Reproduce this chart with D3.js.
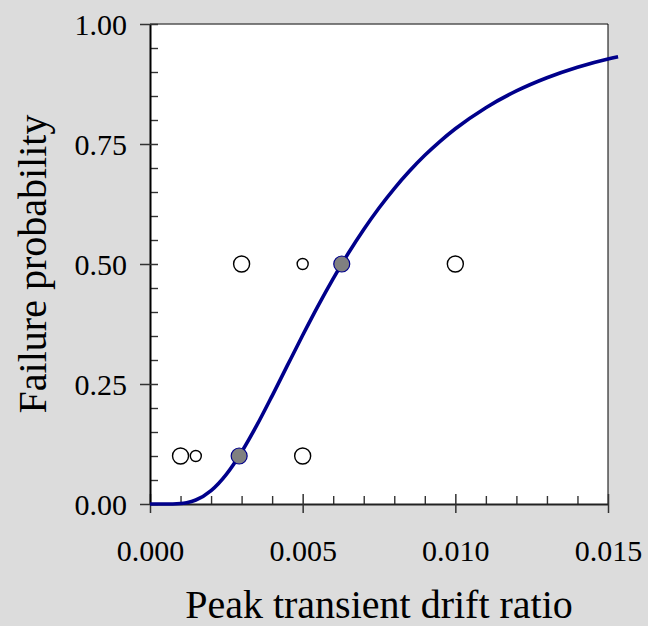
<!DOCTYPE html>
<html>
<head>
<meta charset="utf-8">
<script src="https://cdn.jsdelivr.net/npm/d3@7"></script>
<style>
  html, body { margin: 0; padding: 0; background: #dcdcdc; }
  svg { display: block; }
  text { font-family: "Liberation Serif", "Times New Roman", serif; fill: #000; }
</style>
</head>
<body>
<script>
// ---- data ----
const xTickValues = [0, 0.005, 0.010, 0.015];
const yTickValues = [0, 0.25, 0.50, 0.75, 1.00];

// observed (open) points; weight: 2 = large marker, 1 = small marker
const openX = [0.0010, 0.0015, 0.0030, 0.0050, 0.0050, 0.0100];
const openP = [0.10, 0.10, 0.50, 0.50, 0.10, 0.50];
const openWeight = [2, 1, 2, 1, 2, 2];

// fitted (filled) points
const fitX = [0.00292, 0.00628];
const fitP = [0.10, 0.50];

// fragility curve
const curveX = [0, 0.0005, 0.0010, 0.0012, 0.0015, 0.0020, 0.0025, 0.0030, 0.0035, 0.0040, 0.0045,
                0.0050, 0.0055, 0.0060, 0.0065, 0.0070, 0.0075, 0.0080, 0.0085, 0.0090, 0.0095,
                0.0100, 0.0110, 0.0120, 0.0130, 0.0140, 0.0150, 0.01533];
const curveP = [0, 0.0000, 0.0011, 0.0028, 0.0083, 0.0279, 0.0618, 0.1084, 0.1641, 0.2254, 0.2887,
                0.3515, 0.4123, 0.4696, 0.5229, 0.5720, 0.6167, 0.6572, 0.6936, 0.7264, 0.7556,
                0.7817, 0.8257, 0.8606, 0.8881, 0.9100, 0.9273, 0.9318];

const xLabel = "Peak transient drift ratio";
const yLabel = "Failure probability";

// ---- layout ----
const W = 648, H = 626;
const L = 150, R = 608, T = 24, B = 504;

const svg = d3.select("body").append("svg").attr("width", W).attr("height", H);
svg.append("rect").attr("width", W).attr("height", H).attr("fill", "#dcdcdc");

const x = d3.scaleLinear().domain([0, 0.015]).range([L, R]);
const y = d3.scaleLinear().domain([0, 1]).range([B, T]);

// plot area
svg.append("rect").attr("x", L).attr("y", T).attr("width", R - L).attr("height", B - T).attr("fill", "#fff");

// frame top / right
svg.append("line").attr("x1", L).attr("x2", R).attr("y1", T).attr("y2", T)
  .attr("stroke", "#555").attr("stroke-width", 1.4);
svg.append("line").attr("x1", R).attr("x2", R).attr("y1", T).attr("y2", B)
  .attr("stroke", "#000").attr("stroke-width", 1);

const tickColor = "#333";

// ---- x minor ticks ----
const xMinor = d3.range(1, 15).map(i => i * 0.001).filter(v => Math.abs(v % 0.005) > 1e-9 && Math.abs(v % 0.005 - 0.005) > 1e-9);
const gxm = svg.append("g").attr("transform", `translate(0,${B})`)
  .call(d3.axisBottom(x).tickValues(xMinor).tickSize(-8).tickFormat(""));
gxm.select(".domain").remove();
gxm.selectAll(".tick line").attr("stroke", tickColor).attr("stroke-width", 1.4);

// ---- x major axis ----
const gx = svg.append("g").attr("transform", `translate(0,${B})`)
  .call(d3.axisBottom(x).tickValues(xTickValues).tickSizeOuter(0).tickFormat(d3.format(".3f")));
gx.select(".domain").attr("stroke", "#222").attr("stroke-width", 2);
gx.selectAll(".tick line").attr("y1", -10).attr("y2", 9).attr("stroke", tickColor).attr("stroke-width", 1.5);
gx.selectAll(".tick text").attr("y", 57).attr("dy", 0)
  .style("font-family", '"Liberation Serif", serif').style("font-size", "30px").attr("fill", "#000");

// ---- y minor ticks ----
const yMinor = d3.range(1, 20).map(i => i * 0.05).filter(v => Math.abs(v * 4 - Math.round(v * 4)) > 1e-6);
const gym = svg.append("g").attr("transform", `translate(${L},0)`)
  .call(d3.axisLeft(y).tickValues(yMinor).tickSize(-8).tickFormat(""));
gym.select(".domain").remove();
gym.selectAll(".tick line").attr("stroke", tickColor).attr("stroke-width", 1.4);

// ---- y major axis ----
const gy = svg.append("g").attr("transform", `translate(${L},0)`)
  .call(d3.axisLeft(y).tickValues(yTickValues).tickSizeOuter(0).tickFormat(d3.format(".2f")));
gy.select(".domain").attr("stroke", "#000").attr("stroke-width", 2);
gy.selectAll(".tick line").attr("x1", -10).attr("x2", 8).attr("stroke", tickColor).attr("stroke-width", 1.5);
gy.selectAll(".tick text").attr("x", -23).attr("dy", 0).attr("y", 10.5)
  .style("font-family", '"Liberation Serif", serif').style("font-size", "30px").attr("fill", "#000");

// ---- open points ----
const rScale = d3.scaleOrdinal().domain([1, 2]).range([5.5, 8]);
const openData = openX.map((v, i) => ({ x: v, p: openP[i], w: openWeight[i] }));
svg.append("g").selectAll("circle").data(openData).join("circle")
  .attr("cx", d => x(d.x)).attr("cy", d => y(d.p)).attr("r", d => rScale(d.w))
  .attr("fill", "#fff").attr("stroke", "#000").attr("stroke-width", 1.4);

// ---- curve ----
const curveData = curveX.map((v, i) => ({ x: v, p: curveP[i] }));
svg.append("path").datum(curveData)
  .attr("d", d3.line().x(d => x(d.x)).y(d => y(d.p)).curve(d3.curveMonotoneX))
  .attr("fill", "none").attr("stroke", "#00008b").attr("stroke-width", 3.6);

// ---- fitted points ----
const fitData = fitX.map((v, i) => ({ x: v, p: fitP[i] }));
svg.append("g").selectAll("circle").data(fitData).join("circle")
  .attr("cx", d => x(d.x)).attr("cy", d => y(d.p)).attr("r", 8)
  .attr("fill", "#808080").attr("stroke", "#00008b").attr("stroke-width", 1.2);

// ---- axis titles ----
svg.append("text").attr("x", (L + R) / 2).attr("y", 618).attr("text-anchor", "middle")
  .style("font-size", "40px").text(xLabel);
svg.append("text").attr("transform", `translate(46,${(T + B) / 2}) rotate(-90)`).attr("text-anchor", "middle")
  .style("font-size", "40px").text(yLabel);
</script>
</body>
</html>
